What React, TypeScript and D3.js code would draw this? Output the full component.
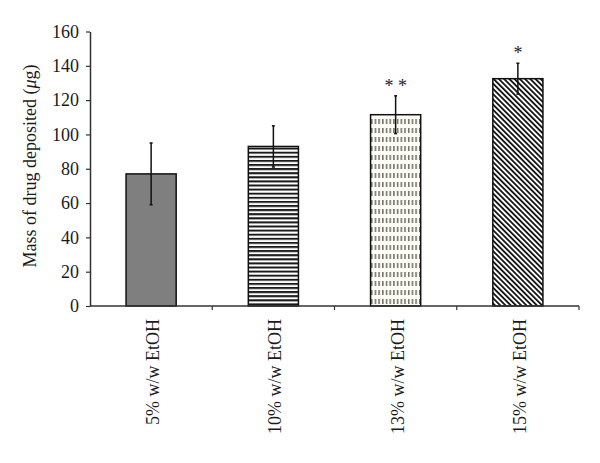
import { useEffect, useRef } from 'react';
import * as d3 from 'd3';

const categories = ['5% w/w EtOH', '10% w/w EtOH', '13% w/w EtOH', '15% w/w EtOH'];
const means = [77, 93, 111.5, 132.5];
const errors = [18, 12, 11, 9];
const marks = ['', '', '**', '*'];
const fills = ['#7f7f7f', 'url(#hstripe)', 'url(#vdash)', 'url(#diag)'];
const yTicks = [0, 20, 40, 60, 80, 100, 120, 140, 160];

const W = 600;
const H = 463;

const App = () => {
  const ref = useRef<SVGSVGElement>(null);

  useEffect(() => {
    const svg = d3.select(ref.current);
    svg.selectAll('*').remove();
    const font = '"Liberation Serif", "Times New Roman", serif';

    const x = d3.scaleBand().domain(categories).range([90, 579]).paddingInner(0.59).paddingOuter(0.295);
    const y = d3.scaleLinear().domain([0, 160]).range([306, 31.5]);

    const defs = svg.append('defs');
    const h = defs.append('pattern').attr('id', 'hstripe').attr('patternUnits', 'userSpaceOnUse')
      .attr('width', 4).attr('height', 4.1);
    h.append('rect').attr('width', 4).attr('height', 4.1).attr('fill', '#fff');
    h.append('rect').attr('y', 0).attr('width', 4).attr('height', 2).attr('fill', '#1a1a1a');

    const v = defs.append('pattern').attr('id', 'vdash').attr('patternUnits', 'userSpaceOnUse')
      .attr('width', 3.7).attr('height', 9);
    v.append('rect').attr('width', 3.7).attr('height', 9).attr('fill', '#fdfdf6');
    v.append('rect').attr('x', 1.2).attr('y', 2).attr('width', 1.1).attr('height', 5).attr('fill', '#3a3a30');

    const dg = defs.append('pattern').attr('id', 'diag').attr('patternUnits', 'userSpaceOnUse')
      .attr('width', 3.7).attr('height', 10).attr('patternTransform', 'rotate(-45)');
    dg.append('rect').attr('width', 3.7).attr('height', 10).attr('fill', '#fff');
    dg.append('rect').attr('width', 1.8).attr('height', 10).attr('fill', '#111');

    const g = svg.append('g');

    // bars
    g.selectAll('rect.bar').data(means).enter().append('rect')
      .attr('class', 'bar')
      .attr('x', (_d, i) => x(categories[i])!)
      .attr('y', d => y(d))
      .attr('width', x.bandwidth())
      .attr('height', d => y(0) - y(d))
      .attr('fill', (_d, i) => fills[i])
      .attr('stroke', '#111').attr('stroke-width', 1.5);

    // error bars
    means.forEach((m, i) => {
      const cx = x(categories[i])! + x.bandwidth() / 2;
      const eg = g.append('g').attr('stroke', '#111').attr('stroke-width', 1.5);
      eg.append('line').attr('x1', cx).attr('x2', cx).attr('y1', y(m + errors[i])).attr('y2', y(m - errors[i]));
      eg.append('line').attr('x1', cx - 1.5).attr('x2', cx + 1.5).attr('y1', y(m + errors[i])).attr('y2', y(m + errors[i]));
      eg.append('line').attr('x1', cx - 1.5).attr('x2', cx + 1.5).attr('y1', y(m - errors[i])).attr('y2', y(m - errors[i]));
      if (marks[i]) {
        g.append('text').text(marks[i].split('').join(' '))
          .attr('x', cx).attr('y', y(m + errors[i]) - 4)
          .attr('text-anchor', 'middle')
          .style('font-family', font).style('font-size', '18px').attr('fill', '#222');
      }
    });

    // y axis
    const yAxis = g.append('g').attr('transform', 'translate(90,0)')
      .call(d3.axisLeft(y).tickValues(yTicks).tickSize(4).tickSizeOuter(0));
    yAxis.select('.domain').attr('stroke', '#333').attr('stroke-width', 1.5);
    yAxis.selectAll('.tick line').attr('stroke', '#333').attr('stroke-width', 1.2);
    yAxis.selectAll('.tick text').style('font-family', font).style('font-size', '18px').attr('fill', '#1a1a1a').attr('x', -11);

    // x axis line + ticks at category boundaries
    const xg = g.append('g');
    xg.append('line').attr('x1', 90).attr('x2', 579).attr('y1', y(0)).attr('y2', y(0))
      .attr('stroke', '#333').attr('stroke-width', 1.5);
    const step = x.step();
    categories.forEach((c, i) => {
      const bx = 90 + step * (i + 1);
      xg.append('line').attr('x1', bx).attr('x2', bx).attr('y1', y(0)).attr('y2', y(0) + 4)
        .attr('stroke', '#333').attr('stroke-width', 1.2);
      const cx = x(c)! + x.bandwidth() / 2;
      xg.append('text').text(c)
        .attr('transform', `translate(${cx + 8},${y(0) + 13}) rotate(-90)`)
        .attr('text-anchor', 'end')
        .style('font-family', font).style('font-size', '18px').attr('fill', '#1a1a1a');
    });

    // y label
    const yl = g.append('text')
      .attr('transform', `translate(36,166) rotate(-90)`)
      .attr('text-anchor', 'middle')
      .style('font-family', font).style('font-size', '18px').attr('fill', '#1a1a1a');
    yl.append('tspan').text('Mass of drug deposited (');
    yl.append('tspan').text('μ').style('font-style', 'italic');
    yl.append('tspan').text('g)');
  }, []);

  return (
    <svg ref={ref} width={W} height={H} style={{ position: 'absolute', left: 0, top: 0, background: '#fff' }} />
  );
};

export default App;
